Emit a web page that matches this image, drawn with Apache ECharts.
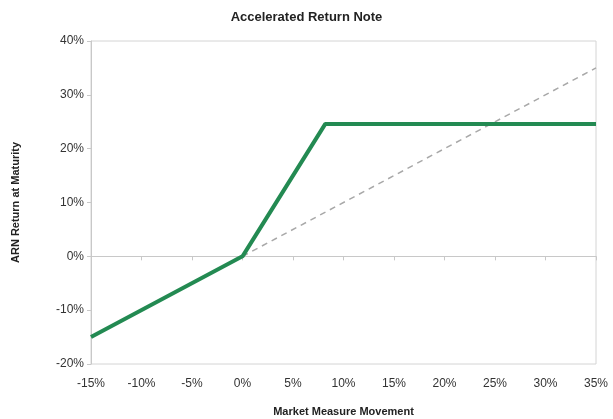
<!DOCTYPE html>
<html>
<head>
<meta charset="utf-8">
<script src="https://cdn.jsdelivr.net/npm/echarts@6/dist/echarts.min.js"></script>
<style>html,body{margin:0;padding:0;background:#fff}#c{width:613px;height:419px}</style>
</head>
<body>
<div id="c"></div>
<script>
var titleText = 'Accelerated Return Note';
var xAxisName = 'Market Measure Movement';
var yAxisName = 'ARN Return at Maturity';
var arnX = [-15, 0, 8.2, 35];
var arnY = [-15, 0, 24.6, 24.6];
var marketX = [0, 35];
var marketY = [0, 35];

var arnData = arnX.map(function (x, i) { return [x, arnY[i]]; });
var marketData = marketX.map(function (x, i) { return [x, marketY[i]]; });

var font = '"Liberation Sans", Arial, sans-serif';
var chart = echarts.init(document.getElementById('c'), null, {renderer: 'canvas'});
chart.setOption({
  animation: false,
  backgroundColor: '#fff',
  title: {
    text: titleText, left: 'center', top: 6,
    textStyle: {fontFamily: font, fontSize: 13, fontWeight: 'bold', color: '#222'}
  },
  grid: {left: 91, right: 17, top: 41, bottom: 55, containLabel: false, outerBoundsMode: 'none',
    show: true, borderColor: '#d4d4d4', borderWidth: 1, backgroundColor: 'transparent'},
  xAxis: [{
    type: 'value', min: -15, max: 35, interval: 5, position: 'bottom',
    axisLine: {show: false, onZero: false}, axisTick: {show: false}, splitLine: {show: false},
    axisLabel: {formatter: '{value}%', fontFamily: font, fontSize: 12, color: '#333', margin: 14},
    name: xAxisName, nameLocation: 'middle', nameGap: 42,
    nameTextStyle: {fontFamily: font, fontSize: 11, fontWeight: 'bold', color: '#222'}
  }, {
    type: 'value', min: -15, max: 35, interval: 5, position: 'top',
    axisLine: {show: true, onZero: true, lineStyle: {color: '#c8c8c8', width: 1}},
    axisTick: {show: true, inside: true, length: 4, lineStyle: {color: '#c8c8c8'}},
    axisLabel: {show: false}, splitLine: {show: false}
  }],
  yAxis: {
    type: 'value', min: -20, max: 40, interval: 10,
    axisLine: {show: true, onZero: false, lineStyle: {color: '#c8c8c8'}},
    axisTick: {show: true, length: 4, lineStyle: {color: '#c8c8c8'}},
    splitLine: {show: false},
    axisLabel: {formatter: '{value}%', fontFamily: font, fontSize: 12, color: '#333', margin: 7},
    name: yAxisName, nameLocation: 'middle', nameGap: 70, nameRotate: 90,
    nameTextStyle: {fontFamily: font, fontSize: 11, fontWeight: 'bold', color: '#222'}
  },
  series: [{
    type: 'line', data: marketData, xAxisIndex: 0, symbol: 'none',
    lineStyle: {color: '#a8a8a8', width: 1.5, type: [6, 5]}, z: 2
  }, {
    type: 'line', data: arnData, xAxisIndex: 0, symbol: 'none',
    lineStyle: {color: '#238a52', width: 4}, z: 3
  }]
});
</script>
</body>
</html>
